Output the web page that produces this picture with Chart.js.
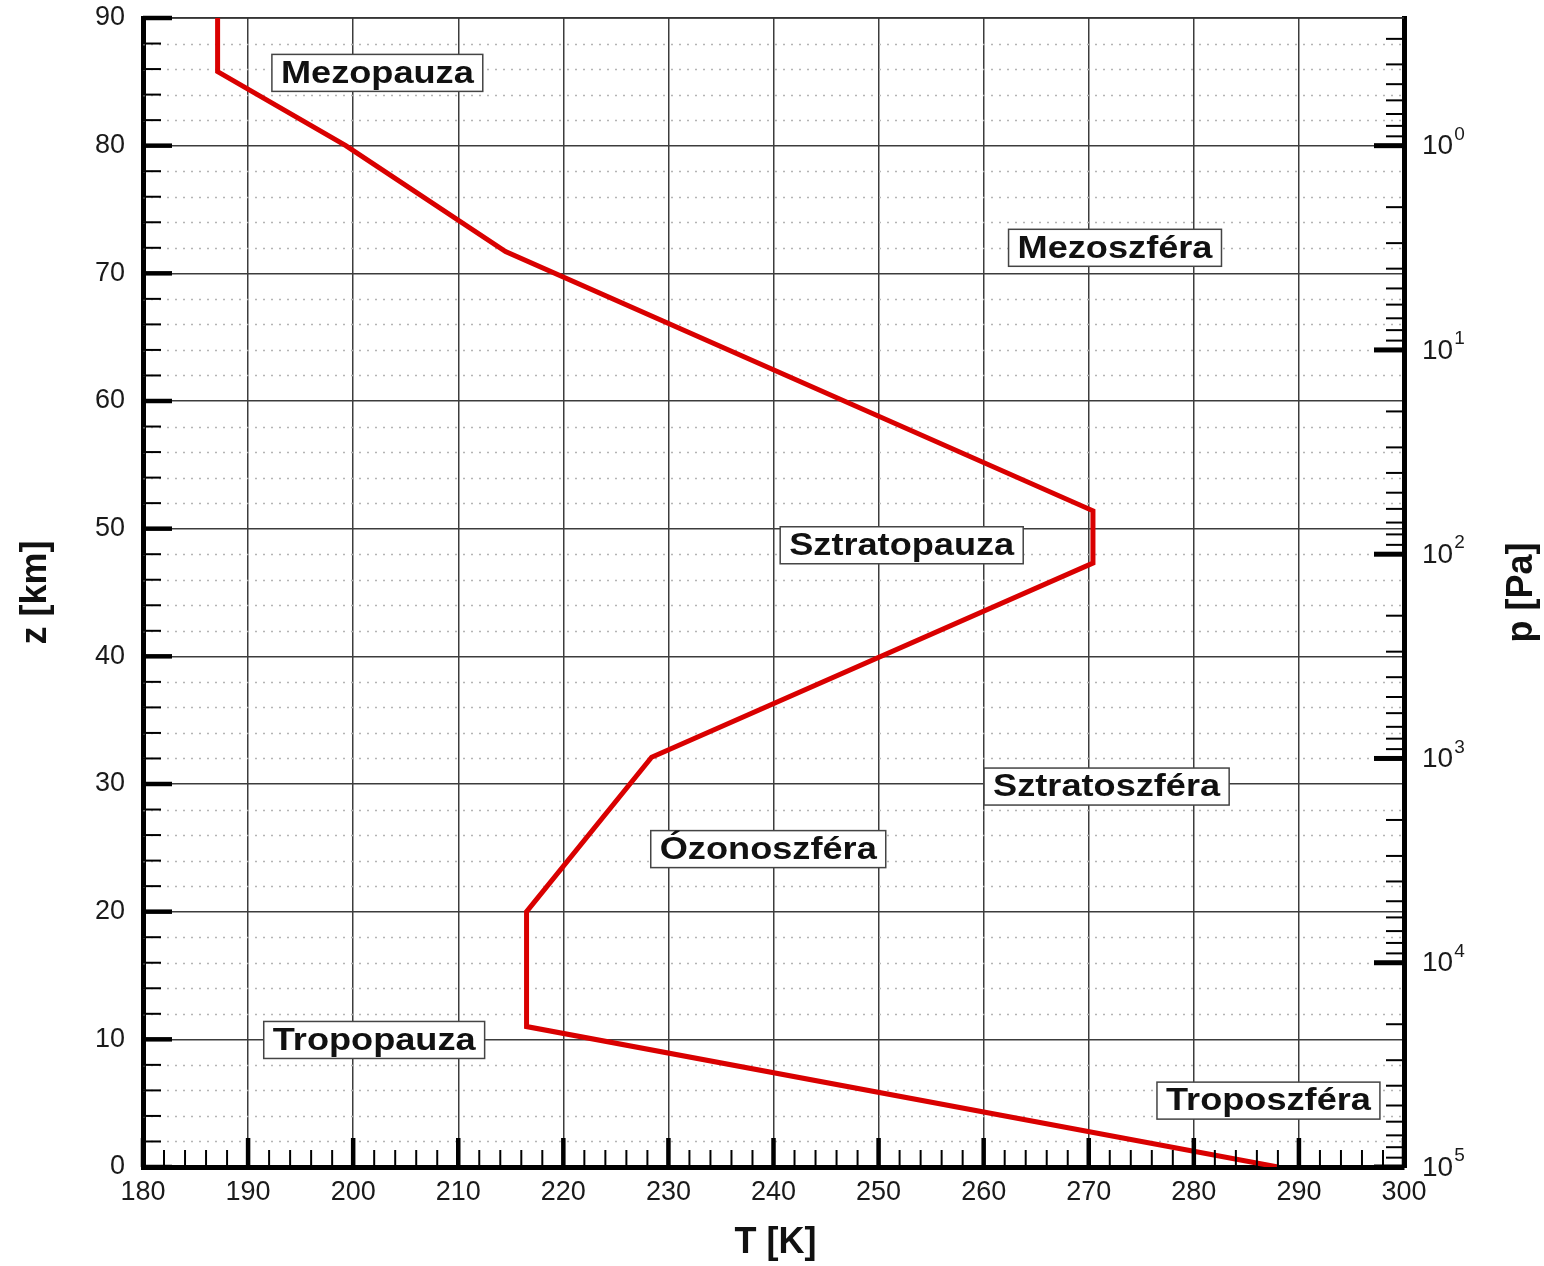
<!DOCTYPE html>
<html>
<head>
<meta charset="utf-8">
<script src="https://cdn.jsdelivr.net/npm/chart.js@4.4.1/dist/chart.umd.min.js"></script>
<style>
  html, body { margin: 0; padding: 0; background: #fff; }
  #wrap { width: 1544px; height: 1266px; }
</style>
</head>
<body>
<div id="wrap"><canvas id="c" width="1544" height="1266"></canvas></div>
<script>
// Temperature profile of the atmosphere: T [K] against altitude z [km]
const profileT = [288.0, 216.5, 216.5, 228.4, 270.4, 270.4, 214.5, 199.3, 187.1, 187.1];
const profileZ = [0, 11, 20, 32.1, 47.3, 51.4, 71.7, 80, 85.8, 90];

// Axis ranges and tick values
const tRange = [180, 300];
const zRange = [0, 90];
const pressureExponents = [0, 1, 2, 3, 4, 5];   // right axis labels 10^n Pa

// Layer names and where they sit (T, z)
const layerNames = ['Mezopauza', 'Mezoszféra', 'Sztratopauza', 'Sztratoszféra', 'Ózonoszféra', 'Tropopauza', 'Troposzféra'];
const layerAnchorT = [202.3, 272.5, 252.2, 271.7, 239.5, 202.0, 287.1];
const layerAnchorZ = [85.7, 72.0, 48.7, 29.8, 24.9, 9.95, 5.2];

const FONT = "'Liberation Sans', Arial, Helvetica, sans-serif";

// pressure at the top of the plot, from 16 km per decade
const pTop = Math.pow(10, 5 - zRange[1] / 16);

const framePlugin = {
  id: 'frame',
  beforeDatasetsDraw(chart) {
    const { ctx, chartArea: a, scales } = chart;
    const y = scales.y;
    ctx.save();
    // dotted minor grid every 2 km
    ctx.strokeStyle = '#b4b4b4';
    ctx.lineWidth = 1.3;
    ctx.setLineDash([2, 6]);
    for (let z = zRange[0] + 2; z < zRange[1]; z += 2) {
      if (z % 10 === 0) continue;
      const py = Math.round(y.getPixelForValue(z)) + 0.5;
      ctx.beginPath();
      ctx.moveTo(a.left, py);
      ctx.lineTo(a.right, py);
      ctx.stroke();
    }
    ctx.setLineDash([]);
    // thin top frame line
    ctx.strokeStyle = '#333';
    ctx.lineWidth = 1.5;
    ctx.beginPath();
    ctx.moveTo(a.left, a.top);
    ctx.lineTo(a.right, a.top);
    ctx.stroke();
    ctx.restore();
  },
  afterDatasetsDraw(chart) {
    const { ctx, chartArea: a, scales } = chart;
    const x = scales.x, y = scales.y, p = scales.y2;
    ctx.save();
    ctx.strokeStyle = '#000';
    ctx.lineCap = 'butt';

    // inward tick marks on the left axis
    for (let z = zRange[0]; z <= zRange[1]; z += 2) {
      const major = z % 10 === 0;
      const py = y.getPixelForValue(z);
      ctx.lineWidth = major ? 4.5 : 2;
      ctx.beginPath();
      ctx.moveTo(a.left, py);
      ctx.lineTo(a.left + (major ? 29 : 18), py);
      ctx.stroke();
    }
    // inward tick marks on the bottom axis
    for (let t = tRange[0]; t <= tRange[1]; t += 2) {
      const major = t % 10 === 0;
      const px = x.getPixelForValue(t);
      ctx.lineWidth = major ? 4.5 : 2;
      ctx.beginPath();
      ctx.moveTo(px, a.bottom);
      ctx.lineTo(px, a.bottom - (major ? 29 : 17));
      ctx.stroke();
    }
    // logarithmic tick marks on the right (pressure) axis
    for (let e = -1; e <= 5; e++) {
      for (let m = 1; m <= 9; m++) {
        const val = m * Math.pow(10, e);
        if (val < pTop || val > 1e5) continue;
        const py = p.getPixelForValue(val);
        const major = m === 1;
        ctx.lineWidth = major ? 5 : 2;
        ctx.beginPath();
        ctx.moveTo(a.right, py);
        ctx.lineTo(a.right - (major ? 30 : 18), py);
        ctx.stroke();
      }
    }

    // right axis labels 10^n
    ctx.fillStyle = '#1a1a1a';
    ctx.textAlign = 'left';
    ctx.textBaseline = 'middle';
    pressureExponents.forEach(e => {
      const py = p.getPixelForValue(Math.pow(10, e));
      ctx.font = `28px ${FONT}`;
      ctx.fillText('10', a.right + 18, py + 1);
      const w = ctx.measureText('10').width;
      ctx.font = `19px ${FONT}`;
      ctx.fillText(String(e), a.right + 19 + w, py - 11);
    });

    // layer name boxes
    layerNames.forEach((name, i) => {
      const cx = x.getPixelForValue(layerAnchorT[i]);
      const cy = y.getPixelForValue(layerAnchorZ[i]);
      ctx.font = `bold 32px ${FONT}`;
      const sx = 1.13;
      const tw = ctx.measureText(name).width * sx;
      const bw = tw + 18, bh = 37;
      ctx.fillStyle = '#fff';
      ctx.fillRect(cx - bw / 2, cy - bh / 2, bw, bh);
      ctx.strokeStyle = '#444';
      ctx.lineWidth = 1.5;
      ctx.strokeRect(cx - bw / 2, cy - bh / 2, bw, bh);
      ctx.save();
      ctx.translate(cx, cy + 1);
      ctx.scale(sx, 1);
      ctx.fillStyle = '#111';
      ctx.textAlign = 'center';
      ctx.textBaseline = 'middle';
      ctx.fillText(name, 0, 0);
      ctx.restore();
    });

    // axis titles
    ctx.fillStyle = '#111';
    ctx.font = `bold 36px ${FONT}`;
    ctx.textAlign = 'center';
    ctx.textBaseline = 'middle';
    ctx.fillText('T [K]', (a.left + a.right) / 2 + 2, 1243);
    const midY = (a.top + a.bottom) / 2;
    ctx.save();
    ctx.translate(36, midY);
    ctx.rotate(-Math.PI / 2);
    ctx.fillText('z [km]', 0, 0);
    ctx.restore();
    ctx.save();
    ctx.translate(1522, midY);
    ctx.rotate(-Math.PI / 2);
    ctx.fillText('p [Pa]', 0, 0);
    ctx.restore();

    ctx.restore();
  }
};

const gridStyle = {
  color: '#3c3c3c',
  lineWidth: 1.5,
  drawTicks: false
};

new Chart(document.getElementById('c'), {
  type: 'line',
  data: {
    datasets: [{
      label: 'T(z)',
      data: profileT.map((t, i) => ({ x: t, y: profileZ[i] })),
      borderColor: '#d90000',
      borderWidth: 5,
      pointRadius: 0,
      tension: 0,
      fill: false,
      yAxisID: 'y'
    }]
  },
  options: {
    responsive: false,
    animation: false,
    layout: { padding: { top: 18, left: 0, right: 0, bottom: 0 } },
    plugins: { legend: { display: false }, tooltip: { enabled: false } },
    scales: {
      x: {
        type: 'linear',
        position: 'bottom',
        min: tRange[0], max: tRange[1],
        ticks: { stepSize: 10, color: '#1a1a1a', font: { family: FONT, size: 27 }, padding: 9, maxRotation: 0 },
        grid: gridStyle,
        border: { color: '#000', width: 5 },
        afterFit(s) { s.height = 99; s.paddingLeft = 0; s.paddingRight = 0; }
      },
      y: {
        type: 'linear',
        position: 'left',
        min: zRange[0], max: zRange[1],
        ticks: { stepSize: 10, color: '#1a1a1a', font: { family: FONT, size: 27 }, padding: 18 },
        grid: gridStyle,
        border: { color: '#000', width: 5 },
        afterFit(s) { s.width = 143; s.paddingTop = 0; s.paddingBottom = 0; }
      },
      y2: {
        type: 'logarithmic',
        position: 'right',
        reverse: true,
        min: pTop, max: 1e5,
        ticks: { display: false },
        grid: { display: false, drawTicks: false },
        border: { color: '#000', width: 5 },
        afterFit(s) { s.width = 140; s.paddingTop = 0; s.paddingBottom = 0; }
      }
    }
  },
  plugins: [framePlugin]
});
</script>
</body>
</html>
